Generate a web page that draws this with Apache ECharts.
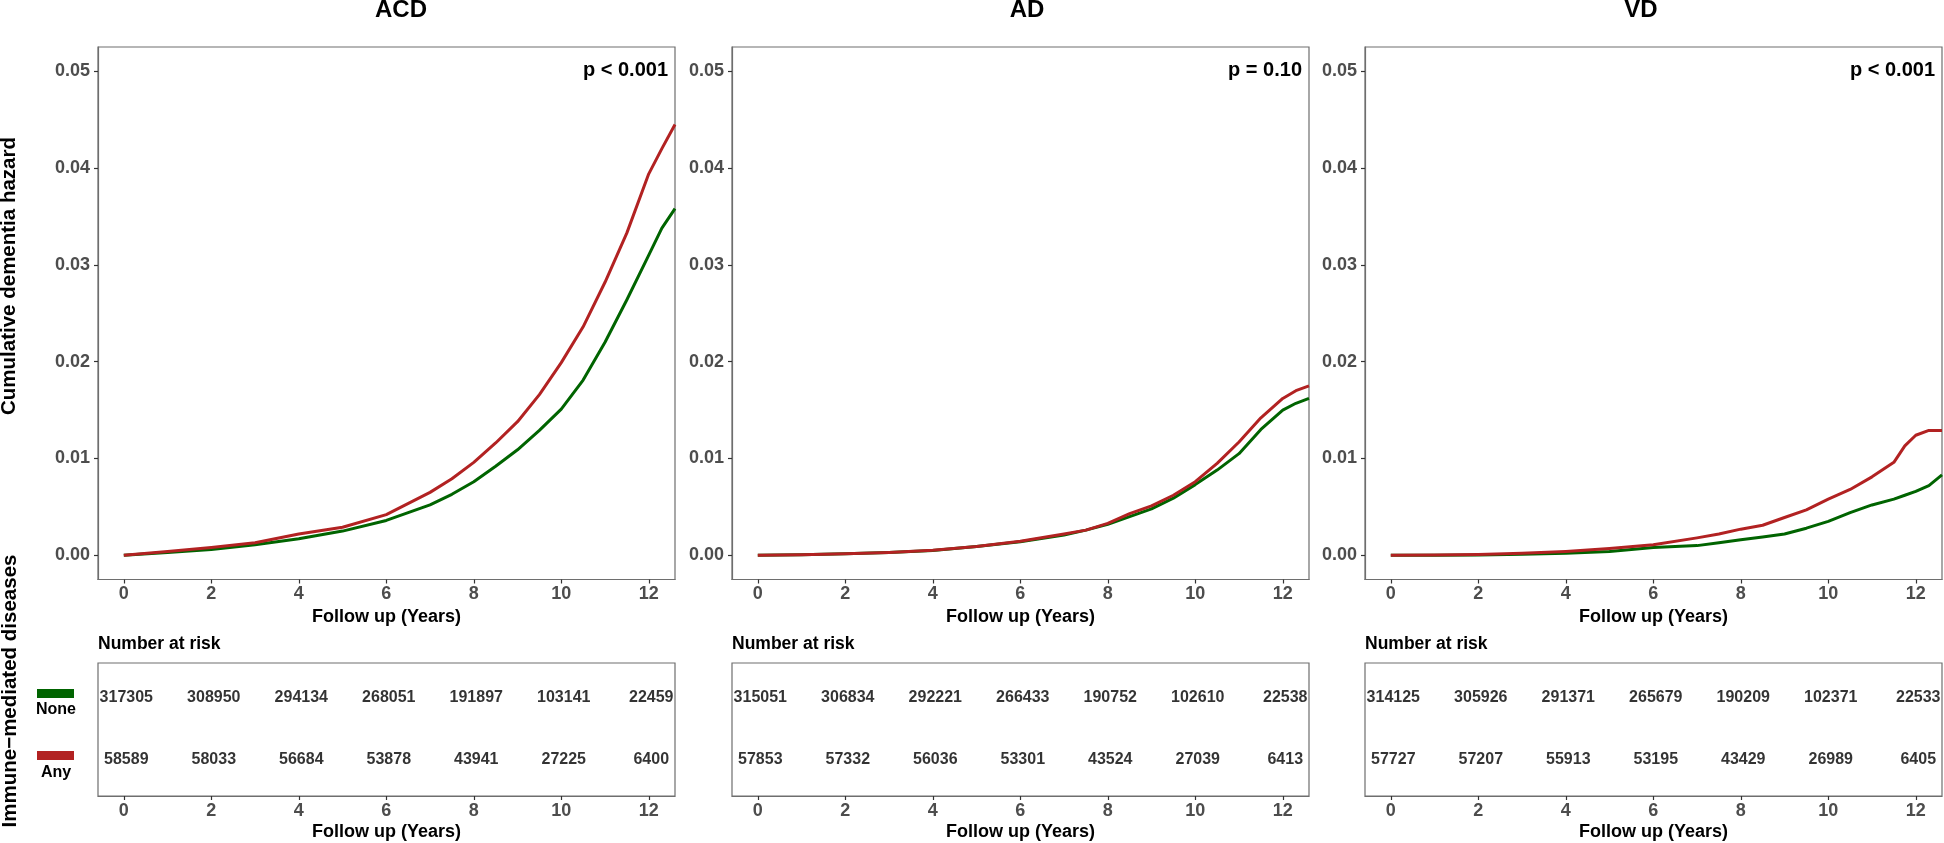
<!DOCTYPE html>
<html><head><meta charset="utf-8">
<script src="https://cdn.jsdelivr.net/npm/echarts@6/dist/echarts.min.js"></script>
<style>html,body{margin:0;padding:0;background:#fff}#c{width:1944px;height:843px}</style>
</head><body><div id="c"></div><script>
// ---------- data ----------
const panelTitles = ['ACD', 'AD', 'VD'];
const pValues = ['p < 0.001', 'p = 0.10', 'p < 0.001'];
const groupNames = ['None', 'Any'];

const timesACD = [0, 1, 2, 3, 4, 5, 6, 7, 7.5, 8, 8.5, 9, 9.5, 10, 10.5, 11, 11.5, 12, 12.3, 12.6];
const noneACD  = [0, 0.0003, 0.0006, 0.0011, 0.0017, 0.0025, 0.0036, 0.0052, 0.0063, 0.0076, 0.0092, 0.0109, 0.0129, 0.0151, 0.0181, 0.0220, 0.0264, 0.0310, 0.0338, 0.0358];
const anyACD   = [0, 0.0004, 0.0008, 0.0013, 0.0022, 0.0029, 0.0042, 0.0065, 0.0079, 0.0096, 0.0116, 0.0138, 0.0166, 0.0199, 0.0236, 0.0282, 0.0333, 0.0394, 0.0420, 0.0445];

const timesAD = [0, 1, 2, 3, 4, 5, 6, 7, 7.5, 8, 8.5, 9, 9.5, 10, 10.5, 11, 11.5, 12, 12.3, 12.6];
const noneAD  = [0, 0.00005, 0.00015, 0.0003, 0.0005, 0.0009, 0.0014, 0.0021, 0.0026, 0.0032, 0.0040, 0.0048, 0.0059, 0.0073, 0.0088, 0.0105, 0.0130, 0.0150, 0.0157, 0.0162];
const anyAD   = [0, 0.00005, 0.00017, 0.0003, 0.00052, 0.0009, 0.00146, 0.0022, 0.0026, 0.0033, 0.0043, 0.0051, 0.0062, 0.0076, 0.0095, 0.0117, 0.0142, 0.0162, 0.0170, 0.0175];

const timesVD = [0, 1, 2, 3, 4, 5, 6, 7, 7.5, 8, 8.5, 9, 9.5, 10, 10.5, 11, 11.5, 11.75, 12, 12.3, 12.6];
const noneVD  = [0, 0.00001, 0.00003, 0.0001, 0.0002, 0.0004, 0.0008, 0.0010, 0.0013, 0.0016, 0.0019, 0.0022, 0.0028, 0.0035, 0.0044, 0.0052, 0.0058, 0.0062, 0.0066, 0.0072, 0.0083];
const anyVD   = [0, 0.00002, 0.00007, 0.0002, 0.0004, 0.0007, 0.0011, 0.0018, 0.0022, 0.0027, 0.0031, 0.0039, 0.0047, 0.0058, 0.0068, 0.0081, 0.0096, 0.0113, 0.0124, 0.0129, 0.0129];

const riskTimes  = [0, 2, 4, 6, 8, 10, 12];
const riskNoneACD = [317305, 308950, 294134, 268051, 191897, 103141, 22459];
const riskAnyACD  = [58589, 58033, 56684, 53878, 43941, 27225, 6400];
const riskNoneAD  = [315051, 306834, 292221, 266433, 190752, 102610, 22538];
const riskAnyAD   = [57853, 57332, 56036, 53301, 43524, 27039, 6413];
const riskNoneVD  = [314125, 305926, 291371, 265679, 190209, 102371, 22533];
const riskAnyVD   = [57727, 57207, 55913, 53195, 43429, 26989, 6405];

const xTicks = [0, 2, 4, 6, 8, 10, 12];
const yTicks = [0, 0.01, 0.02, 0.03, 0.04, 0.05];

// ---------- layout / style ----------
const FONT = 'Liberation Sans, Arial, Helvetica, sans-serif';
const GREEN = '#006400', RED = '#B22222';
const lefts = [98, 732, 1365];
const PW = 577;
const MAIN_TOP = 47, MAIN_H = 532.5;
const RISK_TOP = 663, RISK_H = 133;
const titleX = [401, 1027, 1641];
const pRight = [668, 1302, 1935];

const panels = [
  {times: timesACD, none: noneACD, any: anyACD, rNone: riskNoneACD, rAny: riskAnyACD},
  {times: timesAD, none: noneAD, any: anyAD, rNone: riskNoneAD, rAny: riskAnyAD},
  {times: timesVD, none: noneVD, any: anyVD, rNone: riskNoneVD, rAny: riskAnyVD}
];

const grid = [], xAxis = [], yAxis = [], series = [], graphic = [];
const tickLabelStyle = {color: '#4D4D4D', fontSize: 18, fontWeight: 'bold', fontFamily: FONT};
const nameStyle = {color: '#000', fontSize: 18, fontWeight: 'bold', fontFamily: FONT};

function xAxisDef(gi, gap) {
  return {
    type: 'value', gridIndex: gi, min: -0.59, max: 12.6,
    axisLine: {show: true, onZero: false, lineStyle: {color: '#6E6E6E', width: 1.2}},
    axisTick: {show: true, length: 4, customValues: xTicks, lineStyle: {color: '#333', width: 1.2}},
    axisLabel: Object.assign({customValues: xTicks, margin: 6}, tickLabelStyle),
    splitLine: {show: false},
    name: 'Follow up (Years)', nameLocation: 'middle', nameGap: gap, nameTextStyle: nameStyle
  };
}

panels.forEach((p, i) => {
  grid.push({left: lefts[i], top: MAIN_TOP, width: PW, height: MAIN_H, show: true,
             borderColor: '#6E6E6E', borderWidth: 1.2, backgroundColor: '#fff', containLabel: false});
  grid.push({left: lefts[i], top: RISK_TOP, width: PW, height: RISK_H, show: true,
             borderColor: '#6E6E6E', borderWidth: 1.2, backgroundColor: '#fff', containLabel: false});
  const gMain = 2 * i, gRisk = 2 * i + 1;
  xAxis.push(xAxisDef(gMain, 27.5));
  xAxis.push(xAxisDef(gRisk, 27));
  yAxis.push({
    type: 'value', gridIndex: gMain, min: -0.0025, max: 0.0525,
    axisLine: {show: true, onZero: false, lineStyle: {color: '#6E6E6E', width: 1.2}},
    axisTick: {show: true, length: 4, customValues: yTicks, lineStyle: {color: '#333', width: 1.2}},
    axisLabel: Object.assign({customValues: yTicks, margin: 8, formatter: v => v.toFixed(2)}, tickLabelStyle),
    splitLine: {show: false}
  });
  yAxis.push({
    type: 'value', gridIndex: gRisk, min: 0.4, max: 2.57,
    axisLine: {show: false}, axisTick: {show: false}, axisLabel: {show: false}, splitLine: {show: false}
  });
  series.push({
    name: groupNames[0], type: 'line', xAxisIndex: gMain, yAxisIndex: gMain,
    data: p.times.map((t, k) => [t, p.none[k]]), showSymbol: false, symbol: 'none',
    lineStyle: {color: GREEN, width: 3, join: 'round'}, itemStyle: {color: GREEN}, clip: true, z: 3
  });
  series.push({
    name: groupNames[1], type: 'line', xAxisIndex: gMain, yAxisIndex: gMain,
    data: p.times.map((t, k) => [t, p.any[k]]), showSymbol: false, symbol: 'none',
    lineStyle: {color: RED, width: 3, join: 'round'}, itemStyle: {color: RED}, clip: true, z: 4
  });
  const riskLabel = {show: true, position: 'inside', offset: [2.5, 0], formatter: q => String(q.value[2]),
                     color: '#000', fontSize: 16, fontWeight: 'bold', fontFamily: FONT};
  series.push({
    type: 'scatter', xAxisIndex: gRisk, yAxisIndex: gRisk, symbol: 'circle', symbolSize: 1,
    itemStyle: {color: 'rgba(0,0,0,0)'}, label: riskLabel, silent: true,
    data: riskTimes.map((t, k) => [t, 2, p.rNone[k]])
  });
  series.push({
    type: 'scatter', xAxisIndex: gRisk, yAxisIndex: gRisk, symbol: 'circle', symbolSize: 1,
    itemStyle: {color: 'rgba(0,0,0,0)'}, label: riskLabel, silent: true,
    data: riskTimes.map((t, k) => [t, 1, p.rAny[k]])
  });

  graphic.push({type: 'text', x: titleX[i], y: 10, style: {text: panelTitles[i], align: 'center', verticalAlign: 'middle',
    fill: '#000', font: 'bold 24px ' + FONT}});
  graphic.push({type: 'text', x: pRight[i], y: 70, z: 10, style: {text: pValues[i], align: 'right', verticalAlign: 'middle',
    fill: '#000', font: 'bold 20px ' + FONT}});
  graphic.push({type: 'text', x: lefts[i], y: 644, style: {text: 'Number at risk', align: 'left', verticalAlign: 'middle',
    fill: '#000', font: 'bold 17.5px ' + FONT}});
});

graphic.push({type: 'text', x: 9, y: 276, rotation: Math.PI / 2,
  style: {text: 'Cumulative dementia hazard', align: 'center', verticalAlign: 'middle', fill: '#000', font: 'bold 20.5px ' + FONT}});
graphic.push({type: 'text', x: 10, y: 691, rotation: Math.PI / 2,
  style: {text: 'Immune\u2212mediated diseases', align: 'center', verticalAlign: 'middle', fill: '#000', font: 'bold 20.5px ' + FONT}});
graphic.push({type: 'rect', shape: {x: 37, y: 689, width: 37, height: 9}, style: {fill: GREEN}});
graphic.push({type: 'rect', shape: {x: 37, y: 751, width: 37, height: 9}, style: {fill: RED}});
graphic.push({type: 'text', x: 56, y: 710, style: {text: groupNames[0], align: 'center', verticalAlign: 'middle', fill: '#000', font: 'bold 16px ' + FONT}});
graphic.push({type: 'text', x: 56, y: 773, style: {text: groupNames[1], align: 'center', verticalAlign: 'middle', fill: '#000', font: 'bold 16px ' + FONT}});

const chart = echarts.init(document.getElementById('c'), null, {renderer: 'canvas'});
chart.setOption({
  animation: false,
  backgroundColor: '#fff',
  textStyle: {fontFamily: FONT},
  grid, xAxis, yAxis, series, graphic
});
</script></body></html>
